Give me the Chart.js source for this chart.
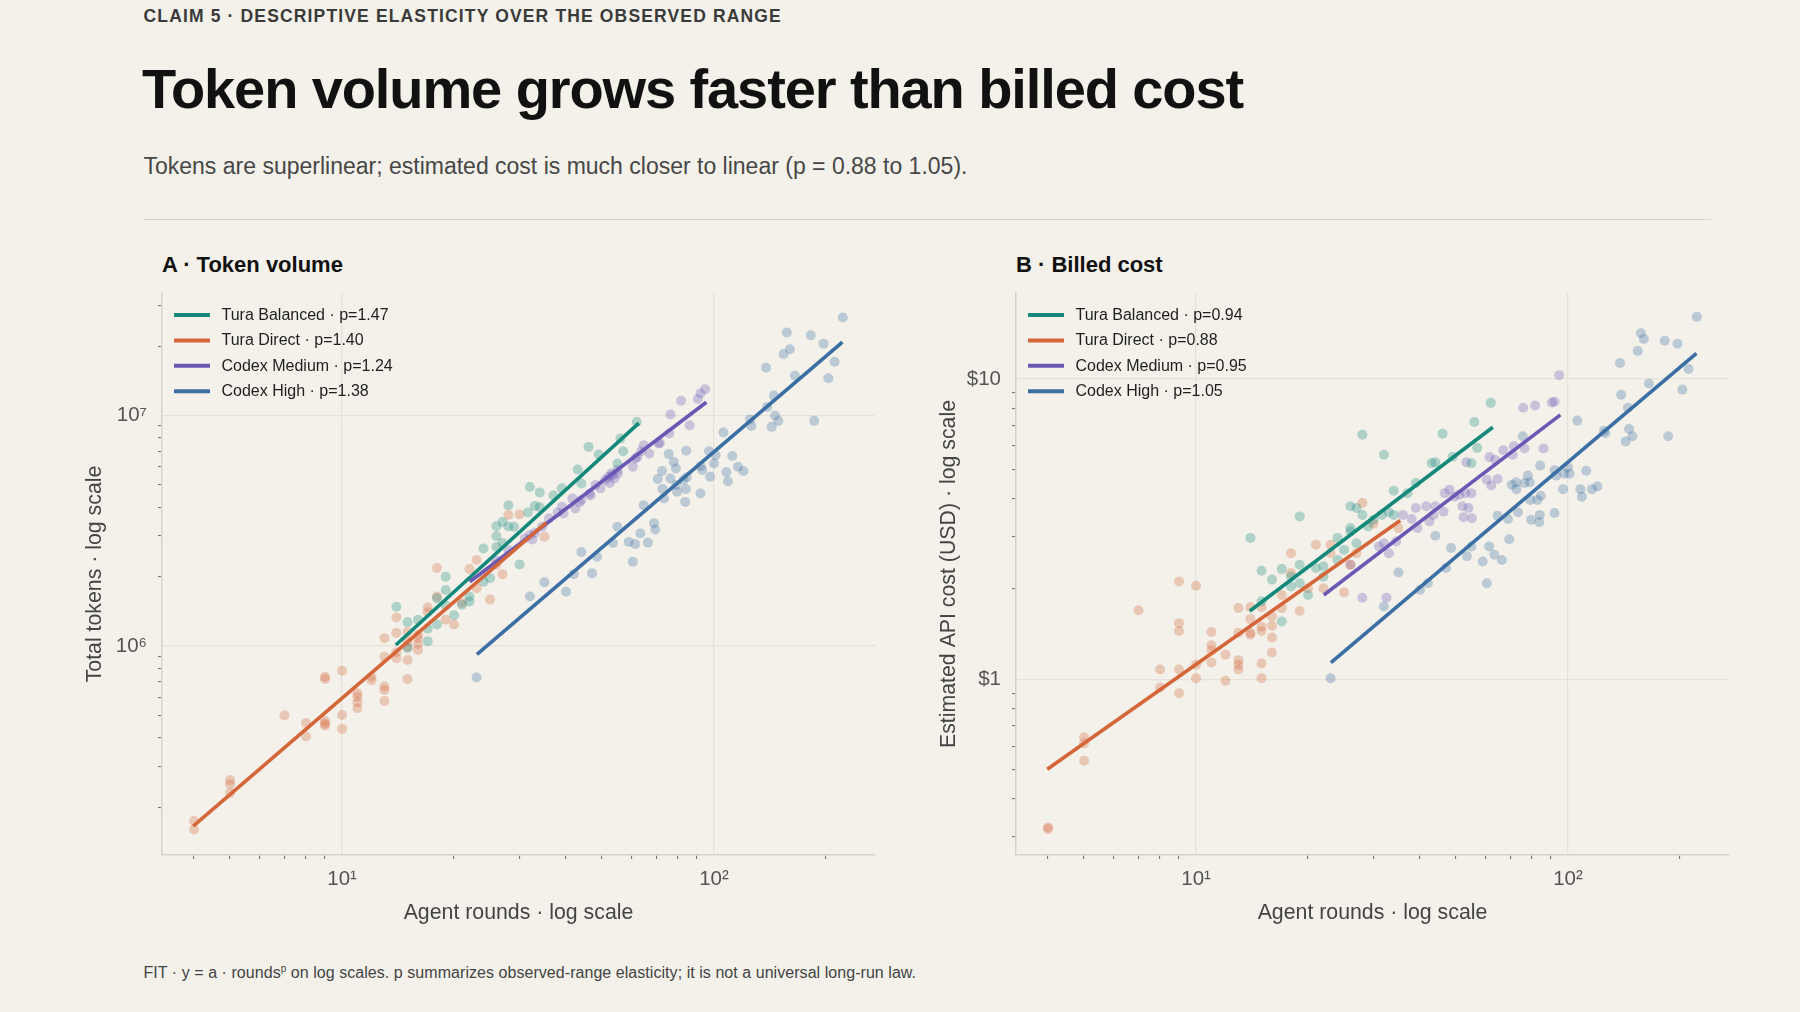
<!DOCTYPE html>
<html>
<head>
<meta charset="utf-8">
<script src="https://cdn.jsdelivr.net/npm/chart.js@4.4.1/dist/chart.umd.min.js"></script>
<style>
  html, body { margin: 0; padding: 0; }
  body {
    width: 1800px; height: 1012px; position: relative; overflow: hidden;
    background: #f3f1ea; font-family: "Liberation Sans", Arial, sans-serif;
  }
  .abs { position: absolute; white-space: nowrap; line-height: 1; }
  #kicker { left: 143.5px; top: 7.7px; font-size: 17.5px; font-weight: 700; color: #3a3a3a; letter-spacing: 1.15px; }
  #title { left: 142px; top: 60.9px; font-size: 56px; font-weight: 700; color: #111; letter-spacing: -1.1px; }
  #subtitle { left: 143.5px; top: 154.9px; font-size: 23px; color: #474747; letter-spacing: 0px; }
  #divider { position: absolute; left: 143.5px; top: 218.5px; width: 1567px; height: 1.5px; background: #d6d3ca; }
  .ptitle { font-size: 22px; font-weight: 700; color: #111; top: 254.2px; }
  #ptA { left: 162px; }
  #ptB { left: 1016px; }
  .box { position: absolute; top: 283px; width: 815px; height: 660px; }
  #boxA { left: 70px; }
  #boxB { left: 924px; }
  #footer { left: 143.5px; top: 964.5px; font-size: 16px; color: #444; letter-spacing: 0.05px; }
  #footer sup { font-size: 10px; vertical-align: 6px; line-height: 0; }
</style>
</head>
<body>
<div id="kicker" class="abs">CLAIM 5 · DESCRIPTIVE ELASTICITY OVER THE OBSERVED RANGE</div>
<div id="title" class="abs">Token volume grows faster than billed cost</div>
<div id="subtitle" class="abs">Tokens are superlinear; estimated cost is much closer to linear (p = 0.88 to 1.05).</div>
<div id="divider"></div>
<div id="ptA" class="abs ptitle">A · Token volume</div>
<div id="ptB" class="abs ptitle">B · Billed cost</div>
<div id="boxA" class="box"><canvas id="chartA"></canvas></div>
<div id="boxB" class="box"><canvas id="chartB"></canvas></div>
<div id="footer" class="abs">FIT · y = a · rounds<sup>p</sup> on log scales. p summarizes observed-range elasticity; it is not a universal long-run law.</div>

<script>
// ---------------- DATA ----------------
const seriesNames = ['Tura Balanced', 'Tura Direct', 'Codex Medium', 'Codex High'];
const seriesColors = ['#14897a', '#d4663a', '#6b58b5', '#3b6ea3'];
const tokenP = ['1.47', '1.40', '1.24', '1.38'];
const costP = ['0.94', '0.88', '0.95', '1.05'];

// Tura Balanced
const turaBalancedRounds = [14,15,15,16,17,17,18,18,19,19,19,20,21,22,22,24,24,25,26,26,26,27,27,28,28,29,30,31.6,32,33,34,34,37,39,43,44,46,49,55,56,57,62];
const turaBalancedTokens = [1.48e6,1.27e6,9.8e5,1.3e6,1.19e6,1.05e6,1.24e6,1.61e6,2.0e6,1.75e6,1.5e6,1.36e6,1.51e6,1.64e6,1.56e6,2.65e6,1.90e6,1.97e6,3.31e6,2.69e6,3.0e6,3.45e6,2.8e6,4.08e6,3.3e6,3.29e6,2.26e6,3.8e6,4.9e6,4.05e6,4.64e6,4.0e6,4.5e6,4.83e6,5.83e6,5.07e6,7.31e6,6.77e6,6.19e6,7.94e6,7.0e6,9.37e6];
const turaBalancedCost = [2.96,2.30,1.82,2.15,2.33,1.56,2.04,2.2,3.49,2.41,2.09,1.91,2.35,2.38,2.2,2.96,2.5,2.70,3.77,3.19,3.11,3.72,2.84,6.53,3.53,3.23,3.40,3.53,5.60,3.6,4.25,3.53,4.17,4.51,5.25,5.28,6.58,5.51,5.25,7.20,5.90,8.33];

// Tura Direct
const turaDirectRounds = [4,4,5,5,5,7,8,8,9,9,9,9,9,10,10,10,11,11,11,11,12,12,13,13,13,13,13,14,14,14,14,15,15,15,15,15,16,16,16,16,17,17,18,18,19,20,21,22,23,23,25,26,27,28,30,35];
const turaDirectTokens = [1.74e5,1.60e5,2.62e5,2.51e5,2.30e5,5.0e5,4.63e5,4.05e5,7.36e5,7.20e5,4.73e5,4.52e5,4.60e5,7.81e5,5.02e5,4.37e5,6.24e5,6.03e5,5.70e5,5.37e5,7.36e5,7.10e5,1.08e6,8.99e5,6.67e5,6.44e5,5.78e5,1.33e6,1.14e6,8.85e5,9.40e5,1.15e6,1.05e6,9.90e5,8.69e5,7.19e5,1.08e6,9.61e5,1.02e6,1.12e6,1.47e6,1.40e6,2.18e6,1.64e6,1.30e6,1.24e6,1.54e6,2.16e6,2.36e6,1.78e6,1.59e6,2.26e6,2.05e6,3.70e6,3.72e6,2.98e6];
const turaDirectCost = [0.318,0.322,0.642,0.613,0.537,1.70,1.08,0.94,2.12,1.54,1.45,1.08,0.90,2.05,1.12,1.01,1.44,1.30,1.25,1.14,1.21,0.99,1.73,1.43,1.16,1.12,1.08,1.74,1.59,1.43,1.41,1.74,1.50,1.45,1.13,1.01,1.62,1.51,1.38,1.23,1.91,1.73,2.63,2.26,1.69,2.01,2.81,2.01,2.81,2.63,1.95,2.41,2.63,3.87,3.30,3.19];

// Codex Medium
const codexMediumRounds = [26,28,31,32,32.5,33,34.5,36,38,39,39.4,41.6,42.4,43.5,44,46.3,46.6,48,49.5,51,52,52.4,53,53.3,54,55,55.2,60.5,61.5,62.2,63.7,64.7,67,71,71.5,75.8,76.4,81.6,86,90.5,92,94.7];
const codexMediumTokens = [2.35e6,2.6e6,2.93e6,3.03e6,2.9e6,3.1e6,3.29e6,3.58e6,3.8e6,4.02e6,3.76e6,4.37e6,3.95e6,4.2e6,4.30e6,4.59e6,4.5e6,4.99e6,4.83e6,5.25e6,5.42e6,5.1e6,5.61e6,5.5e6,5.33e6,5.80e6,5.6e6,5.99e6,6.51e6,6.6e6,7.0e6,7.43e6,6.84e6,7.56e6,7.6e6,8.36e6,1.01e7,1.16e7,9.08e6,1.18e7,1.25e7,1.30e7];
const codexMediumCost = [2.41,1.87,2.77,2.84,1.87,2.63,2.88,3.53,3.42,3.72,3.19,3.77,3.36,3.53,3.77,3.62,4.17,4.28,4.06,4.12,3.77,3.47,4.17,5.28,3.72,4.17,3.44,4.62,5.50,4.42,5.39,4.65,5.79,5.60,5.97,8.02,5.87,8.16,5.87,8.35,8.4,10.3];

// Codex High
const codexHighRounds = [23,32,35,40,42,44,47,48.5,53.5,55,59,60.5,61.4,63.4,64.7,66.4,69,69.5,70.6,72.5,72.7,73.4,75.6,76.4,78,79,79.2,79.6,82.8,83.7,84,84.2,84.5,92,92.1,93,97,97.7,100,101,106,108,109,112,116,120,125,126,138,139,143,145,146,149,154,157,160,165,182,186,197,203,211,222];
const codexHighTokens = [7.3e5,1.64e6,1.89e6,1.72e6,2.05e6,2.56e6,2.07e6,2.44e6,2.8e6,3.29e6,2.83e6,2.32e6,2.77e6,3.08e6,4.08e6,2.81e6,3.41e6,3.2e6,5.30e6,5.75e6,4.8e6,4.37e6,6.8e6,5.33e6,6.29e6,5.89e6,5.0e6,4.67e6,5.25e6,4.22e6,4.8e6,7.03e6,5.4e6,4.59e6,6.03e6,5.8e6,7.0e6,5.42e6,6.19e6,6.73e6,8.44e6,5.69e6,5.19e6,6.67e6,5.99e6,5.75e6,9.62e6,9.0e6,1.61e7,1.09e7,8.93e6,1.22e7,1.0e7,9.48e6,1.85e7,2.29e7,1.94e7,1.49e7,2.23e7,9.48e6,2.05e7,1.45e7,1.71e7,2.66e7];
const codexHighCost = [1.01,1.75,2.27,1.99,2.09,3.01,2.35,2.74,2.57,2.77,2.47,2.09,2.77,2.60,3.51,2.50,3.42,2.93,4.45,4.53,4.30,3.60,6.45,4.51,4.77,4.53,3.96,3.40,3.96,3.34,3.53,5.15,4.09,3.58,4.97,4.77,4.30,4.84,5.08,4.84,7.27,4.30,4.06,4.95,4.30,4.39,6.73,6.6,11.3,8.87,6.20,8.02,6.82,6.45,12.4,14.2,13.6,9.66,13.4,6.45,13.1,9.22,10.8,16.1];

// Fitted power-law segments (endpoints)
const fitTuraBalancedRounds = [13.95, 62.8];
const fitTuraBalancedTokens = [1.01e6, 9.27e6];
const fitTuraBalancedCost = [1.69, 6.91];
const fitTuraDirectRounds = [3.98, 35.4];
const fitTuraDirectTokens = [1.655e5, 3.43e6];
const fitTuraDirectCost = [0.503, 3.38];
const fitCodexMediumRounds = [22.05, 95.4];
const fitCodexMediumTokens = [1.90e6, 1.142e7];
const fitCodexMediumCost = [1.91, 7.6];
const fitCodexHighRounds = [23.05, 221.5];
const fitCodexHighTokens = [9.2e5, 2.08e7];
const fitCodexHighCost = [1.137, 12.18];

// Ticks
const roundTickValues = [4,5,6,7,8,9,10,20,30,40,50,60,70,80,90,100,200];
const roundMajorValues = [10, 100];
const roundMajorLabels = ['10¹', '10²'];
const tokenTickValues = [2e5,3e5,4e5,5e5,6e5,7e5,8e5,9e5,1e6,2e6,3e6,4e6,5e6,6e6,7e6,8e6,9e6,1e7,2e7,3e7];
const tokenMajorValues = [1e6, 1e7];
const tokenMajorLabels = ['10⁶', '10⁷'];
const costTickValues = [0.3,0.4,0.5,0.6,0.7,0.8,0.9,1,2,3,4,5,6,7,8,9,10];
const costMajorValues = [1, 10];
const costMajorLabels = ['$1', '$10'];

// ---------------- BUILD ----------------
const FONT = '"Liberation Sans", Arial, sans-serif';
Chart.defaults.font.family = FONT;

const seriesRounds = [turaBalancedRounds, turaDirectRounds, codexMediumRounds, codexHighRounds];
const seriesTokens = [turaBalancedTokens, turaDirectTokens, codexMediumTokens, codexHighTokens];
const seriesCost = [turaBalancedCost, turaDirectCost, codexMediumCost, codexHighCost];
const fitRounds = [fitTuraBalancedRounds, fitTuraDirectRounds, fitCodexMediumRounds, fitCodexHighRounds];
const fitTokens = [fitTuraBalancedTokens, fitTuraDirectTokens, fitCodexMediumTokens, fitCodexHighTokens];
const fitCost = [fitTuraBalancedCost, fitTuraDirectCost, fitCodexMediumCost, fitCodexHighCost];

function hexA(hex, a) {
  const n = parseInt(hex.slice(1), 16);
  return `rgba(${(n >> 16) & 255},${(n >> 8) & 255},${n & 255},${a})`;
}
function near(v, list) { return list.findIndex(m => Math.abs(v / m - 1) < 1e-6); }

const lineOrder = [2, 0, 1, 3]; // draw order of fit lines (lower number on top)

function buildDatasets(yLists, fitY, pLabels) {
  const ds = [];
  seriesNames.forEach((name, i) => {
    ds.push({
      type: 'scatter',
      data: seriesRounds[i].map((r, j) => ({x: r, y: yLists[i][j]})),
      backgroundColor: hexA(seriesColors[i], 0.3),
      borderWidth: 0,
      pointRadius: 5,
      order: 10
    });
  });
  seriesNames.forEach((name, i) => {
    ds.push({
      type: 'line',
      isFit: true,
      label: name + ' · p=' + pLabels[i],
      data: fitRounds[i].map((r, j) => ({x: r, y: fitY[i][j]})),
      borderColor: seriesColors[i],
      borderWidth: 3.6,
      borderCapStyle: 'butt',
      pointRadius: 0,
      fill: false,
      tension: 0,
      order: lineOrder[i]
    });
  });
  return ds;
}

const insideLegend = {
  id: 'insideLegend',
  afterDatasetsDraw(chart) {
    const {ctx, chartArea} = chart;
    const items = chart.data.datasets.filter(d => d.isFit);
    ctx.save();
    items.forEach((d, i) => {
      const y = chartArea.top + 22 + i * 25.4;
      const x = chartArea.left + 12;
      ctx.strokeStyle = d.borderColor;
      ctx.lineWidth = 4;
      ctx.lineCap = 'butt';
      ctx.beginPath(); ctx.moveTo(x, y); ctx.lineTo(x + 36, y); ctx.stroke();
      ctx.fillStyle = '#1e1e1e';
      ctx.font = '16px ' + FONT;
      ctx.textBaseline = 'middle';
      ctx.textAlign = 'left';
      ctx.fillText(d.label, x + 36 + 11.5, y + 0.5);
    });
    ctx.restore();
  }
};

function axisCommon(tickValues, majorValues, majorLabels) {
  return {
    type: 'logarithmic',
    afterBuildTicks: s => { s.ticks = tickValues.map(v => ({value: v})); },
    ticks: {
      autoSkip: false, maxRotation: 0, minRotation: 0,
      color: '#555', font: {size: 20.5, family: FONT},
      callback: v => { const k = near(v, majorValues); return k >= 0 ? majorLabels[k] : ''; }
    },
    grid: {
      color: c => (c.tick && near(c.tick.value, majorValues) >= 0) ? '#e5e2d9' : 'rgba(0,0,0,0)',
      tickColor: c => (c.tick && near(c.tick.value, majorValues) >= 0) ? 'rgba(0,0,0,0)' : '#6a6a6a',
      lineWidth: 1.2, tickLength: 4, tickWidth: 1, drawTicks: true
    },
    border: { display: true, color: '#d6d3ca', width: 1.5 }
  };
}

function makeChart(id, yLists, fitY, pLabels, yMin, yMax, yTicks, yMajor, yMajorLabels, yTitle) {
  const xAxis = Object.assign(axisCommon(roundTickValues, roundMajorValues, roundMajorLabels), {
    position: 'bottom', min: 3.28, max: 271,
    afterFit: s => { s.height = 88; s.paddingLeft = 0; s.paddingRight = 0; },
    title: { display: true, text: 'Agent rounds · log scale', color: '#444', font: {size: 21.3, family: FONT}, padding: {top: 0, bottom: 17.5} }
  });
  xAxis.ticks.padding = 8;
  const yAxis = Object.assign(axisCommon(yTicks, yMajor, yMajorLabels), {
    position: 'left', min: yMin, max: yMax,
    afterFit: s => { s.width = 92; s.paddingTop = 0; s.paddingBottom = 0; },
    title: { display: true, text: yTitle, color: '#444', font: {size: 21.3, family: FONT}, padding: {top: 12.5, bottom: 0} }
  });
  yAxis.ticks.padding = 11;
  return new Chart(document.getElementById(id), {
    data: { datasets: buildDatasets(yLists, fitY, pLabels) },
    options: {
      responsive: true, maintainAspectRatio: false, animation: false, events: [],
      layout: { padding: {top: 10, right: 10, left: 0, bottom: 0} },
      plugins: { legend: {display: false}, tooltip: {enabled: false}, title: {display: false} },
      scales: { x: xAxis, y: yAxis }
    },
    plugins: [insideLegend]
  });
}

makeChart('chartA', seriesTokens, fitTokens, tokenP, 1.24e5, 3.40e7, tokenTickValues, tokenMajorValues, tokenMajorLabels, 'Total tokens · log scale');
makeChart('chartB', seriesCost, fitCost, costP, 0.2606, 19.33, costTickValues, costMajorValues, costMajorLabels, 'Estimated API cost (USD) · log scale');
</script>
</body>
</html>
